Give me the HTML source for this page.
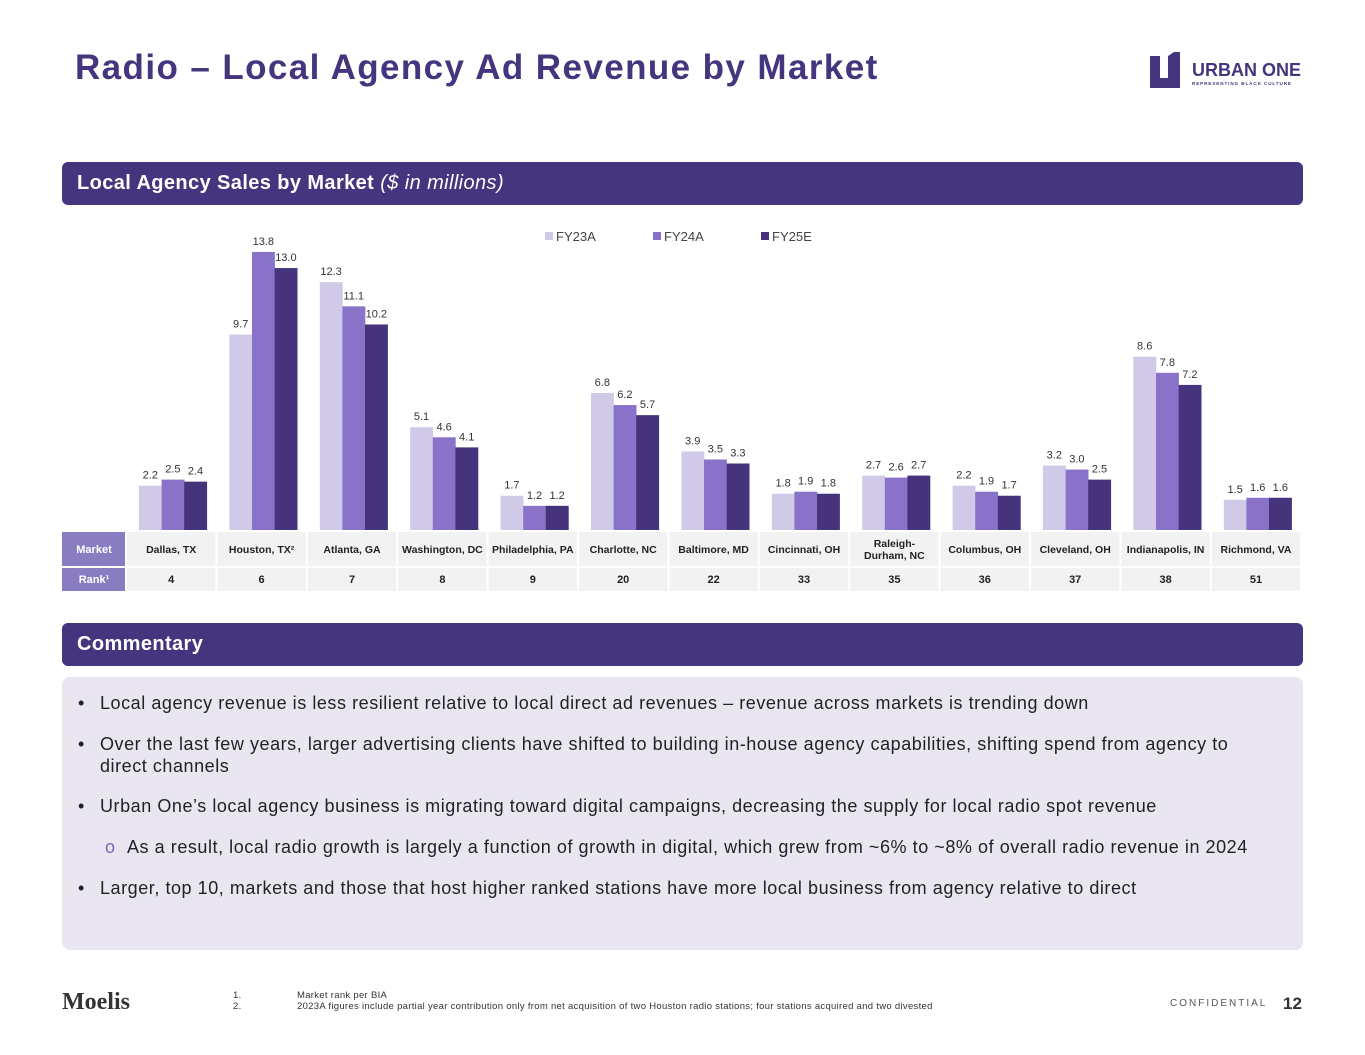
<!DOCTYPE html>
<html><head><meta charset="utf-8">
<style>
body{margin:0;width:1365px;height:1055px;background:#fff;font-family:"Liberation Sans","DejaVu Sans",sans-serif;position:relative;overflow:hidden}
.abs{position:absolute}
.title{left:75px;top:48px;font-size:35px;font-weight:bold;color:#45357e;letter-spacing:1.4px}
.band{left:62px;width:1241px;height:43px;background:#45357e;border-radius:6px;color:#fff;font-size:20px;font-weight:bold;line-height:43px;padding-left:15px;box-sizing:border-box;letter-spacing:0.4px}
.comm{left:62px;top:677px;width:1241px;height:273px;background:#e9e6f2;border-radius:8px}
.bul{position:absolute;left:38px;font-size:18px;color:#222;line-height:22px;letter-spacing:0.55px}
.bul span{position:absolute;left:-22px}
.foot{font-size:9.5px;color:#333;letter-spacing:0.3px}
</style></head><body>
<div class="abs title">Radio – Local Agency Ad Revenue by Market</div>
<div class="abs" style="left:1148px;top:50px">
 <svg width="160" height="40"><path d="M2 6h10v22h8V6l6-4h6v36H2z" fill="#45357e"/><text x="44" y="26" font-size="18" font-weight="bold" fill="#45357e" font-family="Liberation Sans">URBAN ONE</text><text x="44" y="35" font-size="4.6" font-weight="bold" fill="#45357e" font-family="Liberation Sans" letter-spacing="0.9">REPRESENTING BLACK CULTURE</text></svg>
</div>
<div class="abs band" style="top:162px">Local Agency Sales by Market <i style="font-weight:normal">($ in millions)</i></div>
<svg class="abs" style="left:0;top:0" width="1365" height="600" id="chart"></svg>
<div class="abs band" style="top:623px">Commentary</div>
<div class="abs comm">
 <div class="bul" style="top:15px"><span>•</span>Local agency revenue is less resilient relative to local direct ad revenues – revenue across markets is trending down</div>
 <div class="bul" style="top:56px;width:1160px"><span>•</span>Over the last few years, larger advertising clients have shifted to building in-house agency capabilities, shifting spend from agency to direct channels</div>
 <div class="bul" style="top:118px"><span>•</span>Urban One’s local agency business is migrating toward digital campaigns, decreasing the supply for local radio spot revenue</div>
 <div class="bul" style="top:159px;left:65px"><span style="color:#7a68b8">o</span>As a result, local radio growth is largely a function of growth in digital, which grew from ~6% to ~8% of overall radio revenue in 2024</div>
 <div class="bul" style="top:200px"><span>•</span>Larger, top 10, markets and those that host higher ranked stations have more local business from agency relative to direct</div>
</div>
<div class="abs" style="left:62px;top:989px;font-family:'Liberation Serif',serif;font-size:24px;color:#333;font-weight:bold">Moelis</div>
<div class="abs foot" style="left:233px;top:990px">1.<br>2.</div>
<div class="abs foot" style="left:297px;top:990px">Market rank per BIA<br>2023A figures include partial year contribution only from net acquisition of two Houston radio stations; four stations acquired and two divested</div>
<div class="abs" style="left:1170px;top:998px;font-size:10px;letter-spacing:2px;color:#555">CONFIDENTIAL</div>
<div class="abs" style="left:1283px;top:994px;font-size:17px;font-weight:bold;color:#333">12</div>
<script>
const markets=["Dallas, TX","Houston, TX²","Atlanta, GA","Washington, DC","Philadelphia, PA","Charlotte, NC","Baltimore, MD","Cincinnati, OH","Raleigh-|Durham, NC","Columbus, OH","Cleveland, OH","Indianapolis, IN","Richmond, VA"];
const ranks=[4,6,7,8,9,20,22,33,35,36,37,38,51];
const fy23=[2.2,9.7,12.3,5.1,1.7,6.8,3.9,1.8,2.7,2.2,3.2,8.6,1.5];
const fy24=[2.5,13.8,11.1,4.6,1.2,6.2,3.5,1.9,2.6,1.9,3.0,7.8,1.6];
const fy25=[2.4,13.0,10.2,4.1,1.2,5.7,3.3,1.8,2.7,1.7,2.5,7.2,1.6];
const seriesNames=["FY23A","FY24A","FY25E"];
const colors=["#d0c9e8","#8873c8","#45347c"];
const svg=document.getElementById('chart');const NS="http://www.w3.org/2000/svg";
const base=530,k=20.15,step=90.4,x0=139,bw=22.6;
const y=v=>base-v*k;const gx=i=>x0+i*step;
function mk(t,a,txt){const e=document.createElementNS(NS,t);for(const n in a)e.setAttribute(n,a[n]);if(txt!==undefined)e.textContent=txt;svg.appendChild(e);return e;}
[fy23,fy24,fy25].forEach((s,j)=>{s.forEach((v,i)=>{
 const r=mk('rect',{x:gx(i)+j*bw,y:y(v),width:bw+0.3,height:v*k,fill:colors[j]});
 
 
 const t=mk('text',{x:gx(i)+j*bw+bw/2,y:y(v)-7,'text-anchor':'middle','font-size':11,fill:'#333'},v.toFixed(1));
 
 
});});
seriesNames.forEach((n,j)=>{
 const lx=545+j*108;
 const r=mk('rect',{x:lx,y:232,width:8,height:8,fill:colors[j]});
 
 
 const t=mk('text',{x:lx+11,y:241,'font-size':13,fill:'#444'},n);
 
 
});
const h1=mk('rect',{x:62,y:532,width:63,height:34,fill:'#8a7cc0'});


const h2=mk('rect',{x:62,y:568,width:63,height:23,fill:'#8a7cc0'});


mk('text',{x:94,y:553,'text-anchor':'middle','font-size':11,'font-weight':'bold',fill:'#fff'},'Market');
mk('text',{x:94,y:583,'text-anchor':'middle','font-size':11,'font-weight':'bold',fill:'#fff'},'Rank¹');
markets.forEach((m,i)=>{
 const cx=127+i*step;
 const c1=mk('rect',{x:cx,y:532,width:step-2,height:34,fill:'#f2f2f2'});
 
 
 const c2=mk('rect',{x:cx,y:568,width:step-2,height:23,fill:'#f2f2f2'});
 
 
 const parts=m.split('|');
 parts.forEach((p,k2)=>{
  const t=mk('text',{x:cx+step/2-1,y:(parts.length>1?547+k2*12:553),'text-anchor':'middle','font-size':10.5,'font-weight':'bold',fill:'#222'},p);
  
  
 });
 const r=mk('text',{x:cx+step/2-1,y:583,'text-anchor':'middle','font-size':11,'font-weight':'bold',fill:'#222'},ranks[i]);
 
 
});
</script>
</body></html>
